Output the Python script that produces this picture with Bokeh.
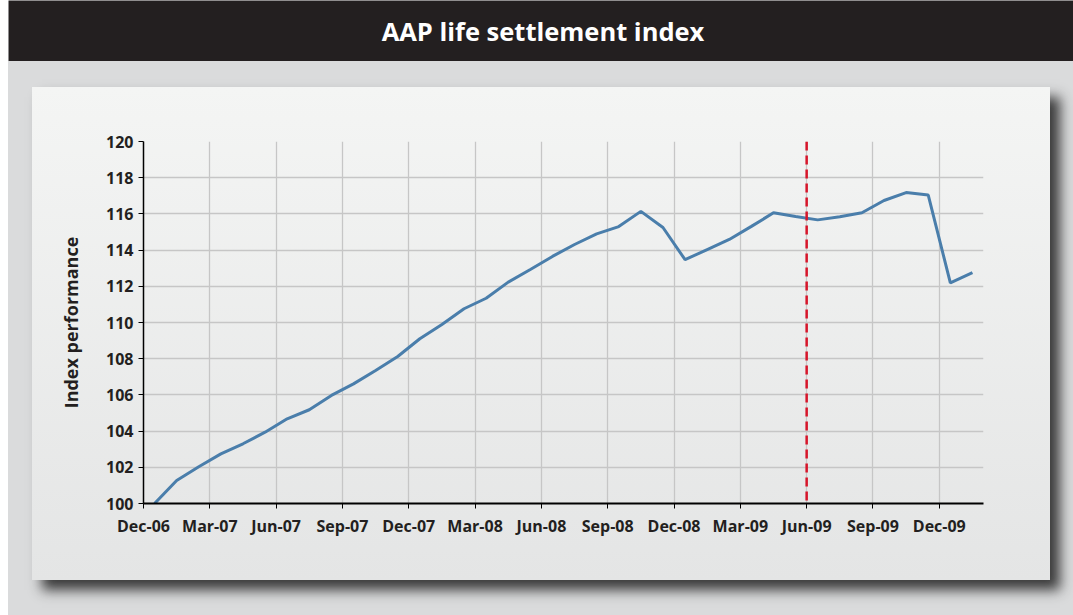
from bokeh.plotting import figure
from bokeh.models import Column, FixedTicker, Span
from bokeh.core.properties import value
from bokeh.embed import file_html
from bokeh.resources import INLINE

title_text = "AAP life settlement index"
y_label = "Index performance"

# monthly index values (38 months, starting Dec-06)
index_values = [100.0, 101.27, 102.03, 102.74, 103.30, 103.94, 104.68, 105.18,
                105.97, 106.61, 107.35, 108.12, 109.10, 109.89, 110.76, 111.34,
                112.23, 112.93, 113.65, 114.31, 114.90, 115.30, 116.14, 115.25,
                113.47, 114.03, 114.59, 115.31, 116.06, 115.86, 115.67, 115.84,
                116.06, 116.74, 117.18, 117.04, 112.19, 112.75]
month_index = list(range(len(index_values)))
tick_months = [0, 3, 6, 9, 12, 15, 18, 21, 24, 27, 30, 33, 36]
tick_labels = ["Dec-06", "Mar-07", "Jun-07", "Sep-07", "Dec-07", "Mar-08", "Jun-08",
               "Sep-08", "Dec-08", "Mar-09", "Jun-09", "Sep-09", "Dec-09"]
y_ticks = [100, 102, 104, 106, 108, 110, 112, 114, 116, 118, 120]
marker_month = 30  # Jun-09

FONT = "Open Sans"
DARK = "#231f20"

# ---- title bar ----
tb = figure(width=1065, height=61, x_range=(0, 1065), y_range=(0, 61),
            output_backend="svg", toolbar_location=None, min_border=0,
            outline_line_color=None, background_fill_color=DARK,
            border_fill_color=DARK, sizing_mode="fixed")
tb.axis.visible = False
tb.grid.visible = False
tb.text(x=[534.5], y=[30.5], text=[title_text], text_color="white",
        text_font=value(FONT), text_font_style="bold", text_font_size="25.5px",
        text_align="center", text_baseline="middle")

# ---- chart ----
p = figure(width=1018, height=493, sizing_mode="fixed",
           min_border_left=111, min_border_right=67,
           min_border_top=54, min_border_bottom=77,
           x_range=(0, 38), y_range=(100, 120),
           output_backend="svg", toolbar_location=None,
           outline_line_color=None,
           background_fill_alpha=0, border_fill_alpha=0,
           margin=(26, 23, 35, 24),
           styles={"background": "linear-gradient(180deg, #f4f5f4 0%, #e4e5e5 100%)",
                   "box-shadow": "10px 10px 12px rgba(30,30,30,0.85)"})

xs = [m + 0.5 for m in month_index]
p.line(xs, index_values, line_color="#4a7eab", line_width=3)

p.add_layout(Span(location=marker_month, dimension="height", line_color="#d7152a",
                  line_width=2.5, line_dash="9 5"))

p.xaxis.ticker = FixedTicker(ticks=tick_months)
p.xaxis.major_label_overrides = {m: lab for m, lab in zip(tick_months, tick_labels)}
p.yaxis.ticker = FixedTicker(ticks=y_ticks)
p.yaxis.axis_label = y_label

for ax in (p.xaxis[0], p.yaxis[0]):
    ax.axis_line_color = "black"
    ax.major_tick_line_color = "black"
    ax.major_tick_in = 0
    ax.major_tick_out = 5
    ax.minor_tick_line_color = None
    ax.major_label_text_font = FONT
    ax.major_label_text_font_style = "bold"
    ax.major_label_text_font_size = "16px"
    ax.major_label_text_color = DARK
p.xaxis.axis_line_width = 2
p.yaxis.axis_line_width = 1.5
p.xaxis.major_label_standoff = 6
p.yaxis.major_label_standoff = 5
p.yaxis.axis_label_text_font = FONT
p.yaxis.axis_label_text_font_style = "bold"
p.yaxis.axis_label_text_font_size = "18px"
p.yaxis.axis_label_text_color = DARK
p.yaxis.axis_label_standoff = 20

p.grid.grid_line_color = "#c6c6c6"
p.grid.grid_line_width = 1.3

body = Column(children=[p], width=1065,
              styles={"background-color": "#dadbdc"})
root = Column(children=[tb, body], width=1065, spacing=0, margin=(0, 0, 0, 8))

open("out.html", "w").write(file_html(root, INLINE))
